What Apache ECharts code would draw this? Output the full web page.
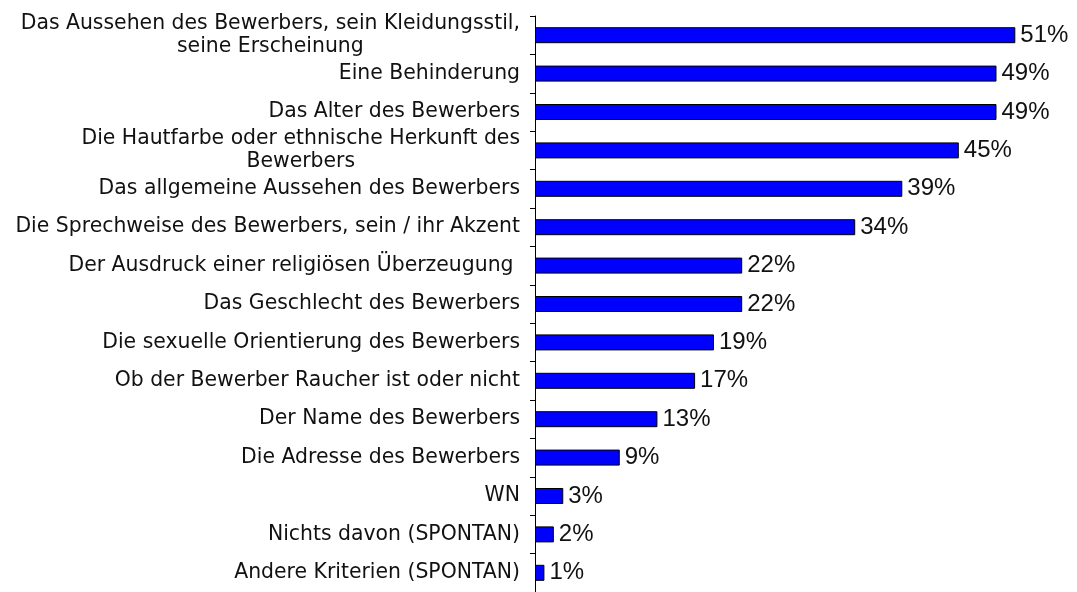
<!DOCTYPE html>
<html style="height: 100%">
<head>
  <meta charset="utf-8">
  <title>Bewerberkriterien</title>
</head>
<body style="height: 100%; margin: 0; background: #fff">
  <div id="container" style="width: 1077px; height: 592px"></div>
  <script src="https://cdn.jsdelivr.net/npm/echarts@6/dist/echarts.min.js"></script>
  <script>
    // Kategorien (von oben nach unten)
    const categories = [
      'Das Aussehen des Bewerbers, sein Kleidungsstil,\nseine Erscheinung',
      'Eine Behinderung',
      'Das Alter des Bewerbers',
      'Die Hautfarbe oder ethnische Herkunft des\nBewerbers',
      'Das allgemeine Aussehen des Bewerbers',
      'Die Sprechweise des Bewerbers, sein / ihr Akzent',
      'Der Ausdruck einer religiösen Überzeugung ',
      'Das Geschlecht des Bewerbers',
      'Die sexuelle Orientierung des Bewerbers',
      'Ob der Bewerber Raucher ist oder nicht',
      'Der Name des Bewerbers',
      'Die Adresse des Bewerbers',
      'WN',
      'Nichts davon (SPONTAN)',
      'Andere Kriterien (SPONTAN)'
    ];
    // Werte in Prozent
    const values = [51, 49, 49, 45, 39, 34, 22, 22, 19, 17, 13, 9, 3, 2, 1];

    const chart = echarts.init(document.getElementById('container'));

    const option = {
      animation: false,
      grid: {
        left: 535,
        right: 24,
        top: 16,
        bottom: -2
      },
      xAxis: {
        type: 'value',
        min: 0,
        max: 55,
        show: false
      },
      yAxis: {
        type: 'category',
        inverse: true,
        data: categories,
        axisLine: { show: true, lineStyle: { color: '#000', width: 1 } },
        axisTick: { show: true, length: 5, lineStyle: { color: '#000' } },
        axisLabel: {
          margin: 15,
          // mehrzeilige Beschriftungen zentriert untereinander
          formatter: function (v) {
            return v.split('\n').map(function (s) { return '{c|' + s + '}'; }).join('\n');
          },
          rich: {
            c: {
              align: 'center',
              fontFamily: 'DejaVu Sans',
              fontSize: 20.4,
              lineHeight: 23,
              color: '#111'
            }
          }
        }
      },
      series: [{
        type: 'bar',
        data: values,
        barWidth: 16,
        itemStyle: {
          color: '#0000FF',
          borderColor: '#000',
          borderWidth: 1
        },
        label: {
          show: true,
          position: 'right',
          distance: 5,
          formatter: '{c}%',
          fontFamily: 'Liberation Sans',
          fontSize: 24,
          color: '#111'
        }
      }]
    };

    chart.setOption(option);
  </script>
</body>
</html>
